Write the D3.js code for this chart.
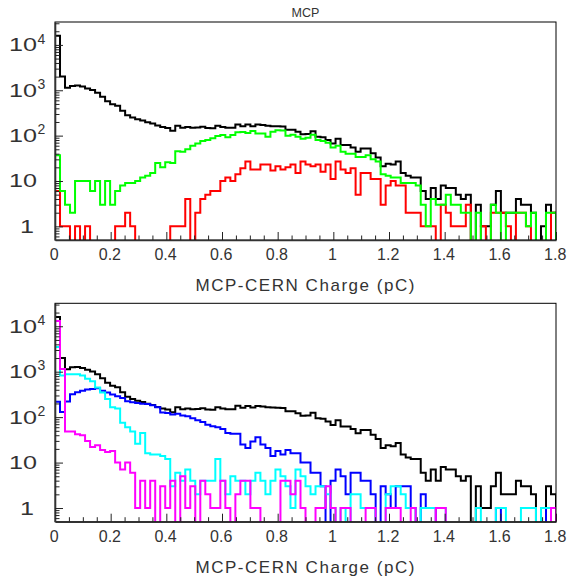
<!DOCTYPE html>
<html>
<head>
<meta charset="utf-8">
<script src="https://cdn.jsdelivr.net/npm/d3@7"></script>
<style>
  html, body { margin: 0; padding: 0; background: #fff; }
  svg { display: block; }
  text { font-family: "Liberation Sans", Arial, sans-serif; fill: #333; }
</style>
</head>
<body>
<svg id="main-svg"></svg>
<script>
// HISTOGRAM BINNING
const N_BINS = 100
const X_MIN = 0
const X_MAX = 1.8

// COUNTS PER BIN
const allCounts = [
  16000, 2000, 1130, 1250, 1270, 1210, 1100, 1010, 880, 720,
  570, 490, 455, 355, 280, 250, 230, 215, 198, 184,
  168, 155, 148, 128, 165, 150, 155, 150, 152, 157,
  148, 145, 165, 155, 149, 150, 177, 160, 175, 162,
  175, 172, 165, 162, 160, 158, 135, 135, 122, 107,
  108, 125, 95, 92, 80, 67, 85, 62, 62, 55,
  44, 52, 52, 41, 33, 21, 24, 23, 27, 15,
  13, 12, 12, 6, 4, 7, 4, 8, 7, 7,
  5, 4, 5, 0, 3, 1, 1, 3, 6, 2,
  2, 2, 4, 3, 3, 2, 0, 1, 3, 2
]
const greenCounts = [
  37, 6, 3, 2, 10, 10, 10, 6, 10, 3,
  10, 3, 6, 8, 9, 9, 10, 12, 13, 15,
  25, 20, 26, 25, 45, 44, 50, 60, 67, 76,
  80, 87, 98, 103, 92, 103, 118, 120, 115, 126,
  112, 112, 95, 122, 132, 130, 100, 104, 95, 85,
  90, 105, 80, 76, 70, 55, 60, 44, 40, 40,
  34, 34, 37, 30, 27, 14, 13, 12, 12, 9,
  9, 9, 8, 3, 1, 4, 3, 3, 5, 3,
  3, 2, 2, 0, 2, 0, 0, 3, 2, 0,
  2, 2, 2, 2, 1, 2, 0, 0, 2, 2
]
const redCounts = [
  6, 1, 1, 0, 1, 0, 1, 0, 0, 0,
  0, 0, 1, 1, 2, 1, 0, 0, 0, 0,
  0, 0, 0, 1, 1, 1, 4, 0, 2, 4,
  5, 6, 6, 10, 12, 10, 14, 19, 27, 18,
  18, 23, 23, 17, 21, 18, 20, 23, 15, 27,
  23, 21, 23, 16, 23, 11, 27, 18, 15, 19,
  5, 15, 15, 11, 11, 3, 8, 10, 8, 8,
  2, 2, 2, 1, 1, 1, 0, 3, 2, 1,
  1, 1, 3, 0, 0, 1, 0, 2, 2, 2,
  1, 0, 2, 2, 1, 0, 0, 0, 0, 2
]
const blueCounts = [
  218, 130, 222, 320, 355, 380, 405, 415, 430, 380,
  350, 315, 290, 265, 225, 212, 205, 198, 195, 182,
  165, 126, 124, 115, 118, 108, 105, 95, 85, 78,
  68, 63, 60, 55, 45, 43, 43, 25, 21, 29,
  36, 25, 21, 14, 18, 15, 19, 16, 16, 10,
  10, 6, 6, 3, 0, 4, 7, 5, 2, 6,
  6, 4, 4, 2, 0, 3, 2, 1, 3, 3,
  3, 1, 0, 2, 1, 1, 0, 0, 0, 0,
  0, 0, 0, 0, 0, 0, 0, 0, 1, 0,
  0, 0, 0, 0, 0, 0, 0, 0, 1, 1
]
const cyanCounts = [
  3500, 820, 880, 880, 880, 820, 700, 620, 450, 350,
  250, 165, 155, 75, 60, 48, 26, 45, 16, 15,
  15, 14, 12, 3, 6, 4, 7, 4, 2, 4,
  4, 4, 12, 4, 2, 5, 4, 4, 2, 4,
  6, 4, 2, 4, 7, 5, 3, 1, 7, 5,
  3, 2, 3, 3, 2, 1, 0, 1, 0, 2,
  2, 1, 1, 1, 0, 0, 2, 3, 3, 2,
  1, 1, 0, 1, 1, 1, 1, 1, 0, 0,
  0, 0, 0, 0, 1, 0, 0, 0, 1, 1,
  0, 0, 0, 1, 1, 1, 0, 1, 1, 0
]
const magentaCounts = [
  13000, 1150, 48, 48, 42, 40, 30, 22, 24, 19,
  17, 18, 10, 7, 10, 6, 1, 4, 1, 4,
  0, 3, 1, 4, 0, 5, 1, 3, 0, 4,
  2, 1, 1, 4, 1, 0, 2, 4, 4, 1,
  1, 0, 0, 0, 0, 4, 4, 2, 4, 1,
  0, 0, 1, 1, 3, 1, 0, 1, 1, 0,
  0, 0, 1, 1, 0, 0, 1, 1, 1, 0,
  0, 1, 0, 0, 0, 0, 1, 1, 0, 0,
  0, 0, 0, 0, 0, 0, 0, 0, 0, 0,
  0, 0, 0, 0, 0, 0, 0, 0, 0, 1
]

// AXES
const X_MAJOR_TICKS = [0, 0.2, 0.4, 0.6, 0.8, 1, 1.2, 1.4, 1.6, 1.8]
const X_TICK_LABELS = ["0", "0.2", "0.4", "0.6", "0.8", "1", "1.2", "1.4", "1.6", "1.8"]
const X_MINOR_STEP = 0.05
const Y_MIN = 0.5
const Y_MAX = 32000
const Y_DECADES = [1, 10, 100, 1000, 10000]
const X_TITLE = "MCP-CERN Charge (pC)"
const TOP_TITLE = "MCP"

// FIXED SPACING VARIABLES
const CANVAS_WIDTH = 575
const CANVAS_HEIGHT = 582
const FRAME_LEFT = 55
const FRAME_RIGHT = 556
const PANELS = [
  { top: 22, bottom: 240, series: [["#000000", allCounts], ["#ff0000", redCounts], ["#00ff00", greenCounts]] },
  { top: 303.3, bottom: 521.7, series: [["#000000", allCounts], ["#0000ff", blueCounts], ["#00ffff", cyanCounts], ["#ff00ff", magentaCounts]] },
]
const MAJOR_TICK = 8
const MINOR_TICK = 4.5
const LINE_WIDTH = 2
const TEXT_COLOR = "#333"

const svg = d3.select("#main-svg")
  .attr("width", CANVAS_WIDTH)
  .attr("height", CANVAS_HEIGHT)

svg.append("rect")
  .attr("width", CANVAS_WIDTH)
  .attr("height", CANVAS_HEIGHT)
  .attr("fill", "#fff")

const x = d3.scaleLinear().domain([X_MIN, X_MAX]).range([FRAME_LEFT, FRAME_RIGHT])
const binWidth = (X_MAX - X_MIN) / N_BINS

const xMinorTicks = d3.range(0, Math.round(X_MAX / X_MINOR_STEP) + 1)
  .map(i => +(i * X_MINOR_STEP).toFixed(3))
  .filter(v => !X_MAJOR_TICKS.some(m => Math.abs(m - v) < 1e-6))

const yMinorTicks = []
for (const d of [0.1, ...Y_DECADES]) {
  for (let k = 2; k <= 9; k++) {
    const v = +(d * k).toPrecision(3)
    if (v > Y_MIN && v < Y_MAX) yMinorTicks.push(v)
  }
}

function drawPanel(panel, index) {
  const y = d3.scaleLog().domain([Y_MIN, Y_MAX]).range([panel.bottom, panel.top])
  const g = svg.append("g")

  const clipId = "clip-" + index
  svg.append("clipPath").attr("id", clipId)
    .append("rect")
    .attr("x", FRAME_LEFT)
    .attr("y", panel.top)
    .attr("width", FRAME_RIGHT - FRAME_LEFT)
    .attr("height", panel.bottom - panel.top)

  // histograms as step outlines
  const line = d3.line()
  const histGroup = g.append("g").attr("clip-path", `url(#${clipId})`)
  panel.series.forEach(([color, counts]) => {
    const yOf = v => v > 0 ? y(v) : panel.bottom + 4
    const pts = [[x(X_MIN), panel.bottom + 4]]
    counts.forEach((v, i) => {
      pts.push([x(X_MIN + i * binWidth), yOf(v)])
      pts.push([x(X_MIN + (i + 1) * binWidth), yOf(v)])
    })
    pts.push([x(X_MAX), panel.bottom + 4])
    histGroup.append("path")
      .attr("d", line(pts))
      .attr("fill", "none")
      .attr("stroke", color)
      .attr("stroke-width", LINE_WIDTH)
      .attr("stroke-linejoin", "miter")
  })

  // frame
  g.append("rect")
    .attr("x", FRAME_LEFT)
    .attr("y", panel.top)
    .attr("width", FRAME_RIGHT - FRAME_LEFT)
    .attr("height", panel.bottom - panel.top)
    .attr("fill", "none")
    .attr("stroke", "#000")
    .attr("stroke-width", 1)

  // x axis (ticks point inward, labels below)
  const xAxis = g.append("g")
    .attr("transform", `translate(0,${panel.bottom})`)
    .call(d3.axisBottom(x)
      .tickValues(X_MAJOR_TICKS)
      .tickFormat((d, i) => X_TICK_LABELS[i])
      .tickSizeInner(-MAJOR_TICK)
      .tickSizeOuter(0)
      .tickPadding(9))
  xAxis.select(".domain").attr("stroke", "#333").attr("stroke-width", 1.6)
  xAxis.selectAll(".tick line").attr("stroke", "#222")
  xAxis.selectAll(".tick text")
    .attr("font-family", "Liberation Sans, Arial, sans-serif")
    .attr("font-size", 16)
    .attr("fill", TEXT_COLOR)
    .attr("dx", "-0.08em")

  g.append("g")
    .attr("transform", `translate(0,${panel.bottom})`)
    .call(d3.axisBottom(x)
      .tickValues(xMinorTicks)
      .tickFormat("")
      .tickSizeInner(-MINOR_TICK)
      .tickSizeOuter(0))
    .call(a => a.select(".domain").remove())
    .selectAll(".tick line").attr("stroke", "#222")

  // y axis (ticks point inward)
  const yAxis = g.append("g")
    .attr("transform", `translate(${FRAME_LEFT},0)`)
    .call(d3.axisRight(y)
      .tickValues(Y_DECADES)
      .tickFormat("")
      .tickSizeInner(MAJOR_TICK)
      .tickSizeOuter(0))
  yAxis.select(".domain").attr("stroke", "#333").attr("stroke-width", 1.6)
  yAxis.selectAll(".tick line").attr("stroke", "#222")

  g.append("g")
    .attr("transform", `translate(${FRAME_LEFT},0)`)
    .call(d3.axisRight(y)
      .tickValues(yMinorTicks)
      .tickFormat("")
      .tickSizeInner(MINOR_TICK)
      .tickSizeOuter(0))
    .call(a => a.select(".domain").remove())
    .selectAll(".tick line").attr("stroke", "#222")

  // y labels: 1, 10, 10^2, 10^3, 10^4
  Y_DECADES.forEach(d => {
    const ty = y(d)
    const exp = Math.round(Math.log10(d))
    if (exp === 0) {
      g.append("text")
        .attr("transform", `translate(27,${ty + 6.6}) scale(1.4,1)`)
        .attr("text-anchor", "middle")
        .attr("font-size", 18)
        .text("1")
    } else {
      g.append("text")
        .attr("transform", `translate(9,${ty + 6.4}) scale(1.4,1)`)
        .attr("font-size", 18)
        .text("10")
      if (exp > 1) {
        g.append("text")
          .attr("x", 37.6)
          .attr("y", ty - 1.4)
          .attr("font-size", 14)
          .text(exp)
      }
    }
  })

  // x title
  g.append("text")
    .attr("x", 195.5)
    .attr("y", panel.bottom + 50.8)
    .attr("font-size", 17)
    .attr("textLength", 219)
    .attr("lengthAdjust", "spacing")
    .text(X_TITLE)
}

PANELS.forEach(drawPanel)

svg.append("text")
  .attr("x", (FRAME_LEFT + FRAME_RIGHT) / 2)
  .attr("y", 16.7)
  .attr("text-anchor", "middle")
  .attr("font-size", 12.5)
  .text(TOP_TITLE)
</script>
</body>
</html>
